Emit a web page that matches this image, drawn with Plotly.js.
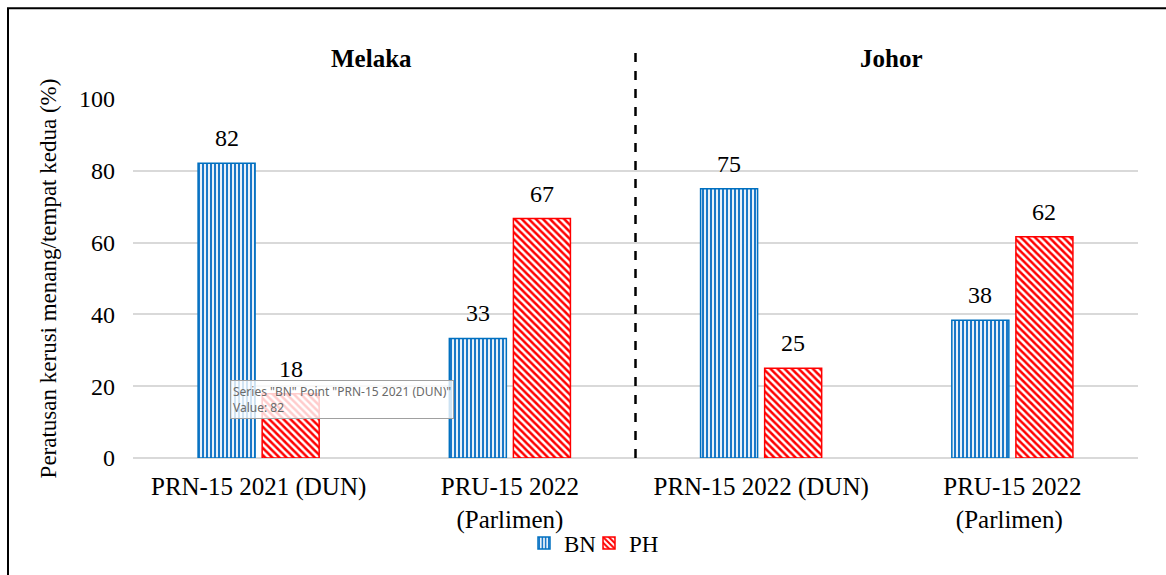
<!DOCTYPE html>
<html>
<head>
<meta charset="utf-8">
<script src="https://cdn.plot.ly/plotly-3.0.1.min.js"></script>
<style>html,body{margin:0;padding:0;background:#fff;}#chart{width:1166px;height:575px;}</style>
</head>
<body>
<div id="chart"></div>
<script>
const categories = ["PRN-15 2021 (DUN)", "PRU-15 2022<br>(Parlimen)", "PRN-15 2022 (DUN)", "PRU-15 2022<br>(Parlimen) "];
const bnValues = [82.1, 33.3, 75.0, 38.4];
const phValues = [17.9, 66.7, 25.0, 61.6];
const groupTitles = ["Melaka", "Johor"];
const yTicks = [0, 20, 40, 60, 80, 100];

const W = 1166, H = 575;
const L = 133, R = 28, T = 99, B = 116;
const pw = W - L - R, ph = H - T - B;
const px = x => (x - L) / pw;
const py = y => (H - B - y) / ph;

const font = "'Liberation Serif', 'Times New Roman', serif";
const BARGAP = 0.49, GROUPGAP = 0.11;
const slot = pw / categories.length * (1 - BARGAP) / 2;

const traces = [
  {
    type: 'bar', name: 'BN', x: categories, y: bnValues, legend: 'legend',
    marker: {
      color: '#ffffff',
      line: {color: '#0070C0', width: 1.5},
      pattern: {shape: '|', fgcolor: '#1a78c8', bgcolor: '#ffffff', size: 4, solidity: 0.55}
    },
    hoverinfo: 'skip'
  },
  {
    type: 'bar', name: 'PH', x: categories, y: phValues, legend: 'legend2',
    marker: {
      color: '#ffffff',
      line: {color: '#ff0000', width: 1.5},
      pattern: {shape: '\\', fgcolor: '#ff0000', bgcolor: '#ffffff', size: 5, solidity: 0.5}
    },
    hoverinfo: 'skip'
  }
];

const labelAnns = [];
[[bnValues, -1], [phValues, 1]].forEach(([vals, side]) => {
  vals.forEach((v, i) => {
    labelAnns.push({
      text: String(Math.round(v)), xref: 'x', yref: 'y', x: categories[i], y: v,
      xshift: side * slot / 2, yshift: 25, xanchor: 'center', yanchor: 'middle', showarrow: false,
      font: {family: font, size: 24, color: '#000'}
    });
  });
});

const legendBase = {orientation: 'h', xanchor: 'left', y: py(543), yanchor: 'middle',
  bgcolor: 'rgba(0,0,0,0)', font: {family: font, size: 23, color: '#000'}, itemwidth: 30};

const layout = {
  width: W, height: H,
  margin: {l: L, r: R, t: T, b: B, pad: 0},
  paper_bgcolor: '#fff', plot_bgcolor: '#fff',
  barmode: 'group', bargap: BARGAP, bargroupgap: GROUPGAP,
  showlegend: true,
  legend: Object.assign({}, legendBase, {x: px(524)}),
  legend2: Object.assign({}, legendBase, {x: px(589)}),
  xaxis: {
    type: 'category', range: [-0.5, 3.5],
    showgrid: false, showline: false, ticks: '', zeroline: false,
    tickfont: {family: font, size: 25, color: '#000'}, ticklabelstandoff: 11
  },
  yaxis: {
    range: [0, 100], tickvals: yTicks, ticks: '', showline: false,
    gridcolor: '#d9d9d9', gridwidth: 2, zeroline: true, zerolinecolor: '#d9d9d9', zerolinewidth: 2,
    tickfont: {family: font, size: 24, color: '#000'}, ticklabelstandoff: 17,
    title: {text: 'Peratusan kerusi menang/tempat kedua (%)', font: {family: font, size: 23, color: '#000'}, standoff: 15}
  },
  shapes: [
    {type: 'line', xref: 'paper', yref: 'paper', x0: 0.5, x1: 0.5, y0: 0, y1: py(45),
     line: {color: '#000', width: 2.5, dash: 'dash'}},
    {type: 'rect', xref: 'paper', yref: 'paper', x0: px(8), x1: px(1180), y0: py(600), y1: py(8),
     line: {color: '#000', width: 2}}
  ],
  annotations: labelAnns.concat([
    {text: '<b>' + groupTitles[0] + '</b>', xref: 'paper', yref: 'paper', x: px(371), y: py(58),
     xanchor: 'center', yanchor: 'middle',
     showarrow: false, font: {family: font, size: 25, color: '#000'}},
    {text: '<b>' + groupTitles[1] + '</b>', xref: 'paper', yref: 'paper', x: px(891), y: py(58),
     xanchor: 'center', yanchor: 'middle',
     showarrow: false, font: {family: font, size: 25, color: '#000'}},
    {text: 'Series "BN" Point "PRN-15 2021 (DUN)"<br>Value: 82', xref: 'paper', yref: 'paper',
     x: px(230), y: py(381), xanchor: 'left', yanchor: 'top', align: 'left', showarrow: false,
     bgcolor: 'rgba(255,255,255,0.8)', bordercolor: '#a0a0a0', borderwidth: 1, borderpad: 2,
     font: {family: "'Noto Sans', 'DejaVu Sans', sans-serif", size: 12, color: '#6a6a6a'}}
  ])
};

Plotly.newPlot('chart', traces, layout, {displayModeBar: false, staticPlot: true});
</script>
</body>
</html>
